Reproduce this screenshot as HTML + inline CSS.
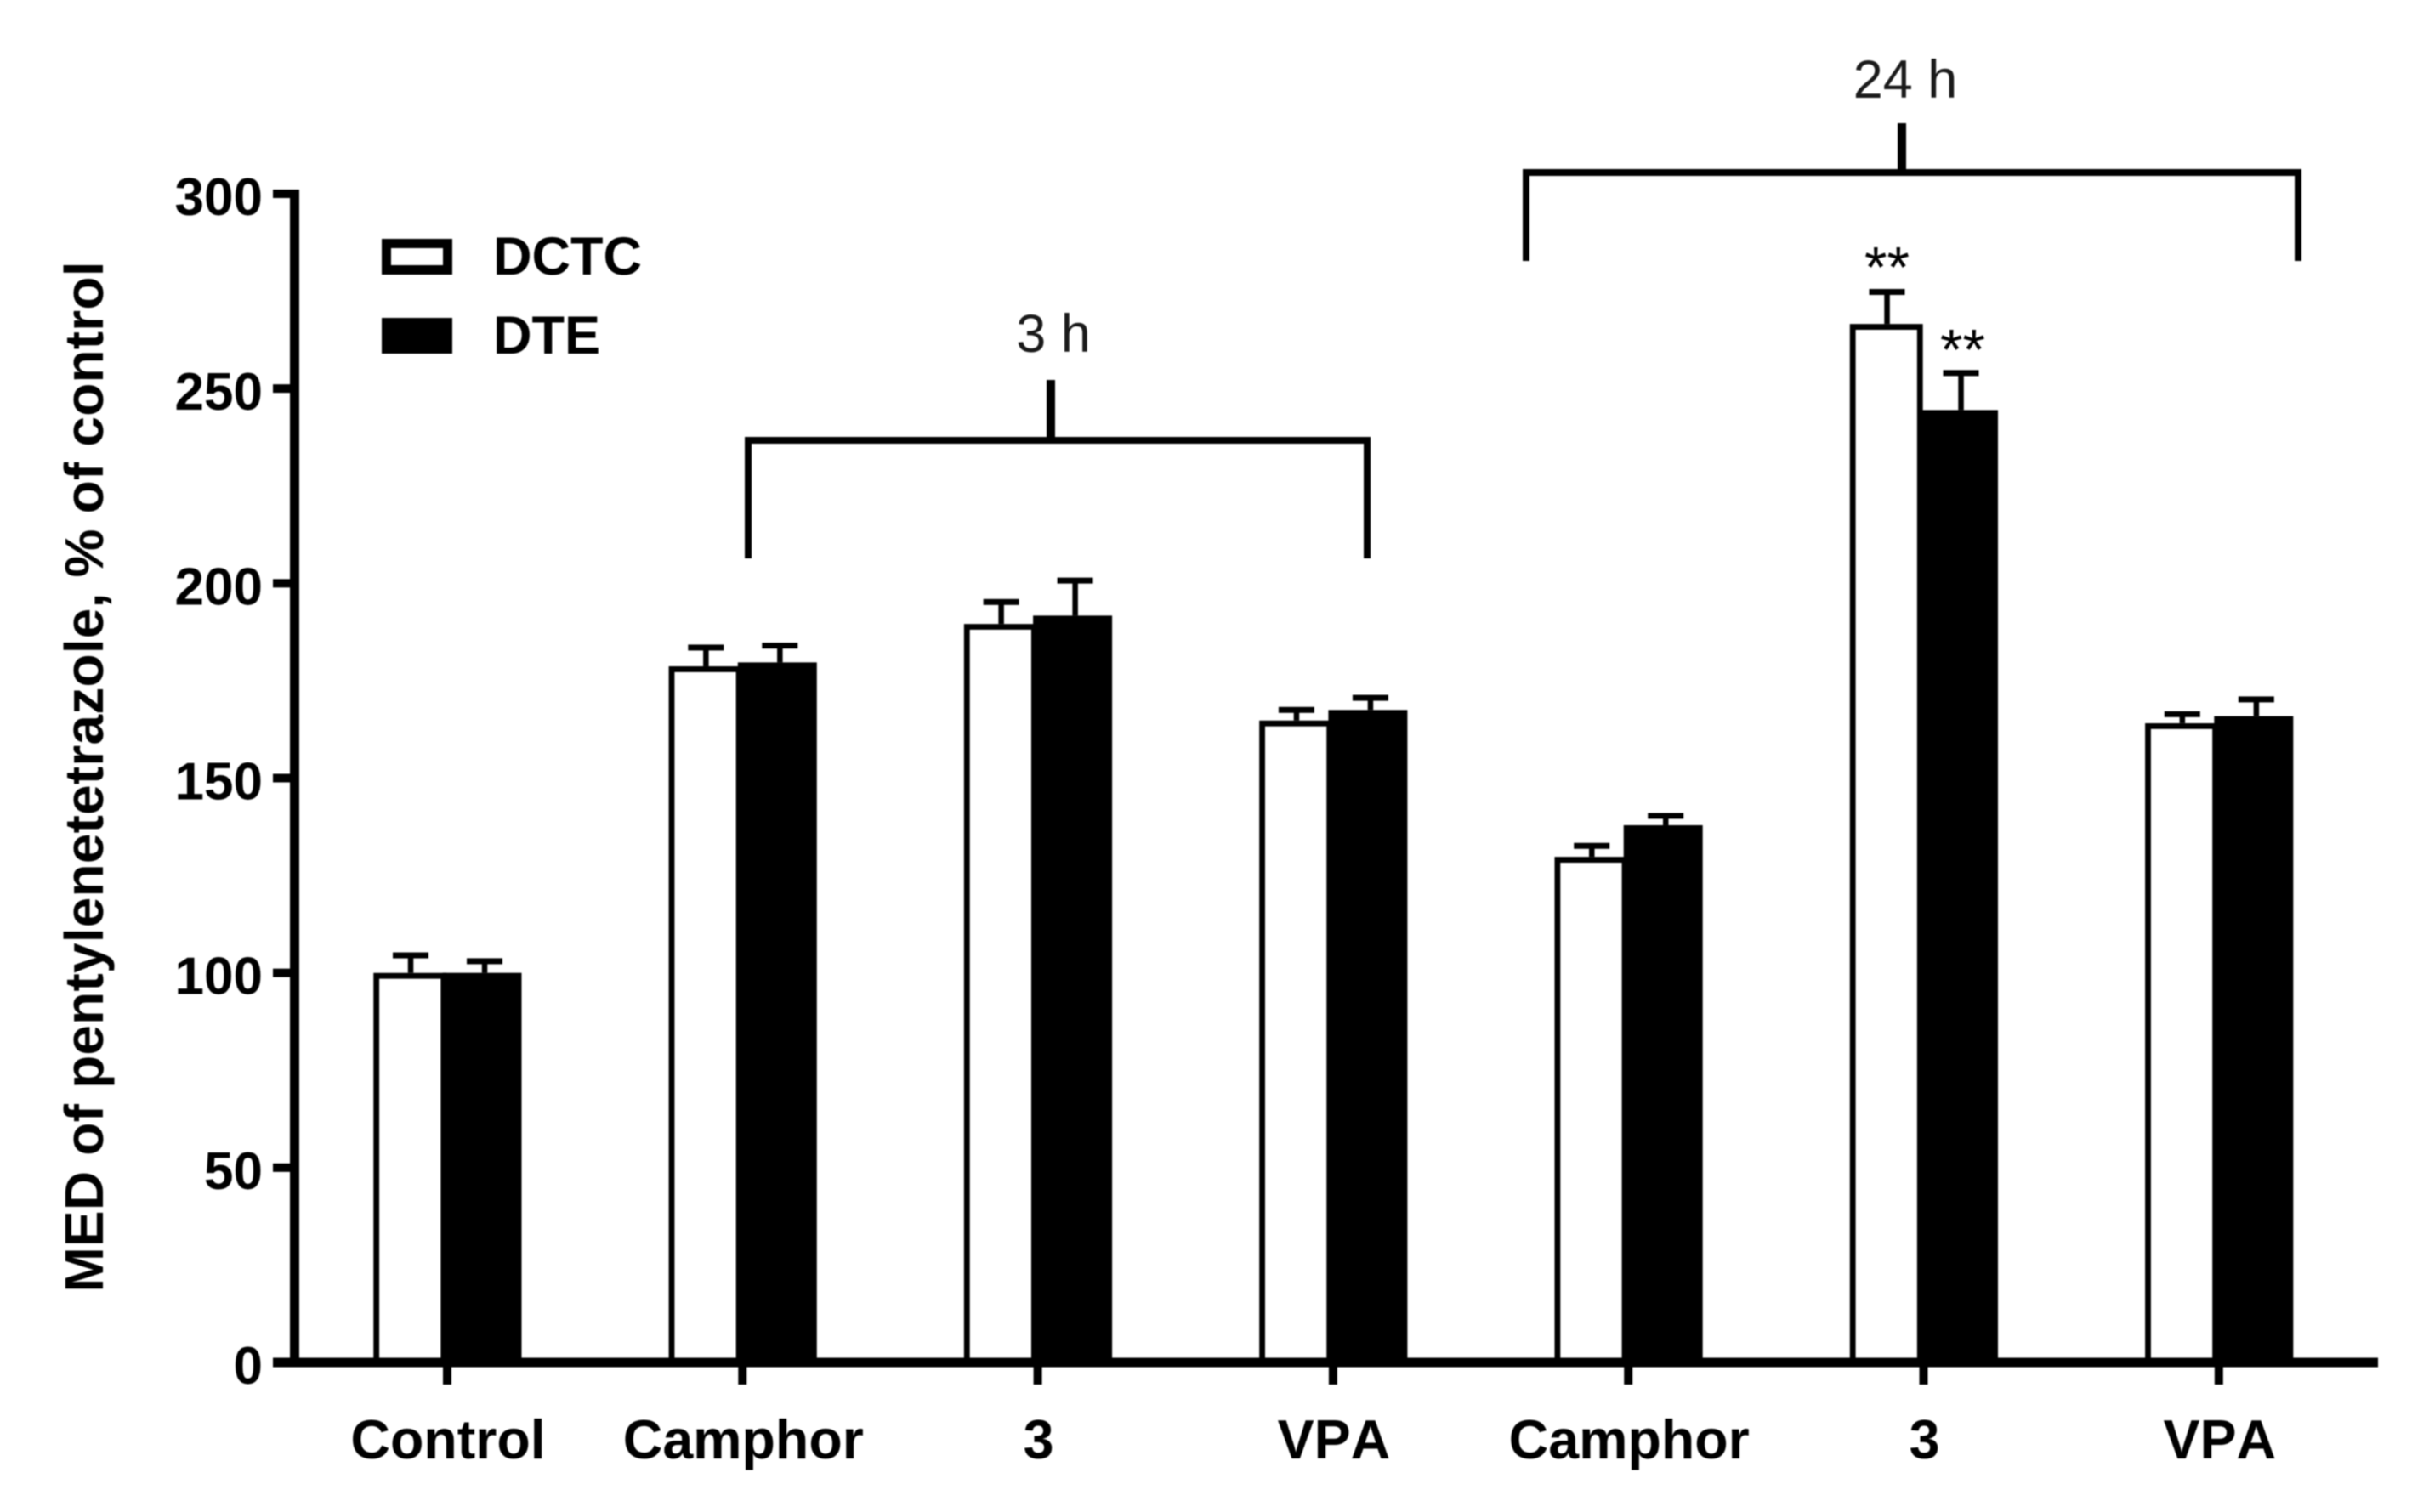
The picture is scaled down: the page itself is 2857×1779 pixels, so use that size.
<!DOCTYPE html>
<html lang="en">
<head>
<meta charset="utf-8">
<title>MED of pentylenetetrazole chart</title>
<style>
  html, body { margin: 0; padding: 0; background: #fff; }
  body { width: 2857px; height: 1779px; overflow: hidden; }
  svg { display: block; filter: blur(0.8px); }
  text { font-family: "Liberation Sans", Arial, sans-serif; fill: #000; }
  .bold { font-weight: 700; font-kerning: none; }
</style>
</head>
<body>
<svg id="chart" xmlns="http://www.w3.org/2000/svg" width="2857" height="1779" viewBox="0 0 2857 1779">
  <rect x="0" y="0" width="2857" height="1779" fill="#fff"/>
  <g id="bars"></g>
  <g id="axes"></g>
  <text class="bold" font-size="64" text-anchor="middle" textLength="1213" lengthAdjust="spacing" transform="translate(121,914) rotate(-90)">MED of pentylenetetrazole, % of control</text>

  <g>
    <g>
      <rect x="454.5" y="286.5" width="72" height="31" fill="#fff" stroke="#000" stroke-width="11"/>
      <text class="bold" font-size="63" x="580" y="323">DCTC</text>
    </g>
    <g>
      <rect x="449" y="374" width="83" height="42" fill="#000"/>
      <text class="bold" font-size="63" x="580" y="416">DTE</text>
    </g>
  </g>

  <g fill="none" stroke="#000" stroke-width="8">
    <path d="M880 657 V518 H1608 V657"/>
    <path d="M1236 447 V518" stroke-width="10"/>
  </g>
  <text font-size="63" text-anchor="middle" x="1239" y="414" style="fill:#1a1a1a">3 h</text>

  <g fill="none" stroke="#000" stroke-width="8">
    <path d="M1795 307 V203 H2703 V307"/>
    <path d="M2237 145 V203" stroke-width="10"/>
  </g>
  <text font-size="63" text-anchor="middle" x="2241" y="115" style="fill:#1a1a1a">24 h</text>
</svg>

<script>
// Chart data
const categories = ["Control", "Camphor", "3", "VPA", "Camphor", "3", "VPA"];
const dctcValues = [100, 178.7, 189.6, 164.8, 129.8, 266.6, 164.1];
const dteValues  = [100, 179.7, 191.7, 167.5, 137.9, 244.5, 165.9];
const dctcErrorTops = [104.5, 183.5, 195.2, 167.5, 132.6, 274.8, 166.4];
const dteErrorTops  = [103, 184, 200.7, 170.6, 140.3, 254, 170.2];
const dctcSignificance = ["", "", "", "", "", "**", ""];
const dteSignificance  = ["", "", "", "", "", "**", ""];
const yTickLabels = [0, 50, 100, 150, 200, 250, 300];

// Axis functions
const Y_ZERO = 1603;
const Y_TOP = 228;
const Y_MAX = 300;
const X_FIRST = 526;
const X_STEP = 347.3;
function yScale(v) { return Y_ZERO - (v / Y_MAX) * (Y_ZERO - Y_TOP); }
function xBand(i) { return X_FIRST + i * X_STEP; }

const NS = "http://www.w3.org/2000/svg";
function make(tag, parent, attrs, text) {
  const el = document.createElementNS(NS, tag);
  for (const k in attrs) el.setAttribute(k, attrs[k]);
  if (text !== undefined) el.textContent = text;
  parent.appendChild(el);
  return el;
}

const barsG = document.getElementById("bars");
const axesG = document.getElementById("axes");

function drawError(cx, top, errTop) {
  const stem = make("rect", barsG, { x: cx - 3.2, y: yScale(errTop), width: 6.5, height: Math.max(0, yScale(top) - yScale(errTop)), fill: "#000" });
  
  
  const cap = make("rect", barsG, { x: cx - 21, y: yScale(errTop) - 3.5, width: 42, height: 7, fill: "#000" });
  
  
}

categories.forEach(function (cat, i) {
  const t = xBand(i);
  // DCTC (white) bar
  const wTop = yScale(dctcValues[i]);
  const wx = t - 86.5, ww = 85.5;
  const whiteBar = make("path", barsG, {
    d: "M" + (wx + 3.2) + " " + Y_ZERO + " V" + (wTop + 3.5) + " H" + (wx + ww - 3.2) + " V" + Y_ZERO,
    fill: "#fff", stroke: "#000", "stroke-width": 6.8
  });
  
  
  drawError(t - 43, dctcValues[i], dctcErrorTops[i]);

  // DTE (black) bar
  const bTop = yScale(dteValues[i]);
  const blackBar = make("rect", barsG, { x: t - 5.5, y: bTop, width: 93, height: Y_ZERO - bTop, fill: "#000" });
  
  
  drawError(t + 44, dteValues[i], dteErrorTops[i]);

  // Significance markers
  if (dctcSignificance[i]) {
    const s1 = make("text", axesG, { x: t - 43, y: yScale(dctcErrorTops[i]) - 6, "font-size": 68, "text-anchor": "middle" }, dctcSignificance[i]);
    
    
  }
  if (dteSignificance[i]) {
    const s2 = make("text", axesG, { x: t + 46, y: yScale(dteErrorTops[i]) - 4.5, "font-size": 68, "text-anchor": "middle" }, dteSignificance[i]);
    
    
  }

  // X tick and label
  const xt = make("rect", axesG, { x: t - 5, y: Y_ZERO, width: 10, height: 26, fill: "#000" });
  
  
  const xl = make("text", axesG, { x: t + 1, y: 1716, "font-size": 64.5, "text-anchor": "middle", "class": "bold" }, cat);
  
  
});

// Y axis line and X axis line
const yLine = make("rect", axesG, { x: 341, y: yScale(Y_MAX) - 5, width: 11, height: Y_ZERO - yScale(Y_MAX) + 10, fill: "#000" });


const xLine = make("rect", axesG, { x: 321, y: Y_ZERO - 5.5, width: 2797 - 321, height: 11, fill: "#000" });



// Y ticks and labels
yTickLabels.forEach(function (v) {
  const y = yScale(v);
  const tick = make("rect", axesG, { x: 321, y: y - 5, width: 24, height: 10, fill: "#000" });
  
  
  const lab = make("text", axesG, { x: 309, y: y + 25, "font-size": 62, "text-anchor": "end", "class": "bold" }, String(v));
  
  
});
</script>
</body>
</html>
